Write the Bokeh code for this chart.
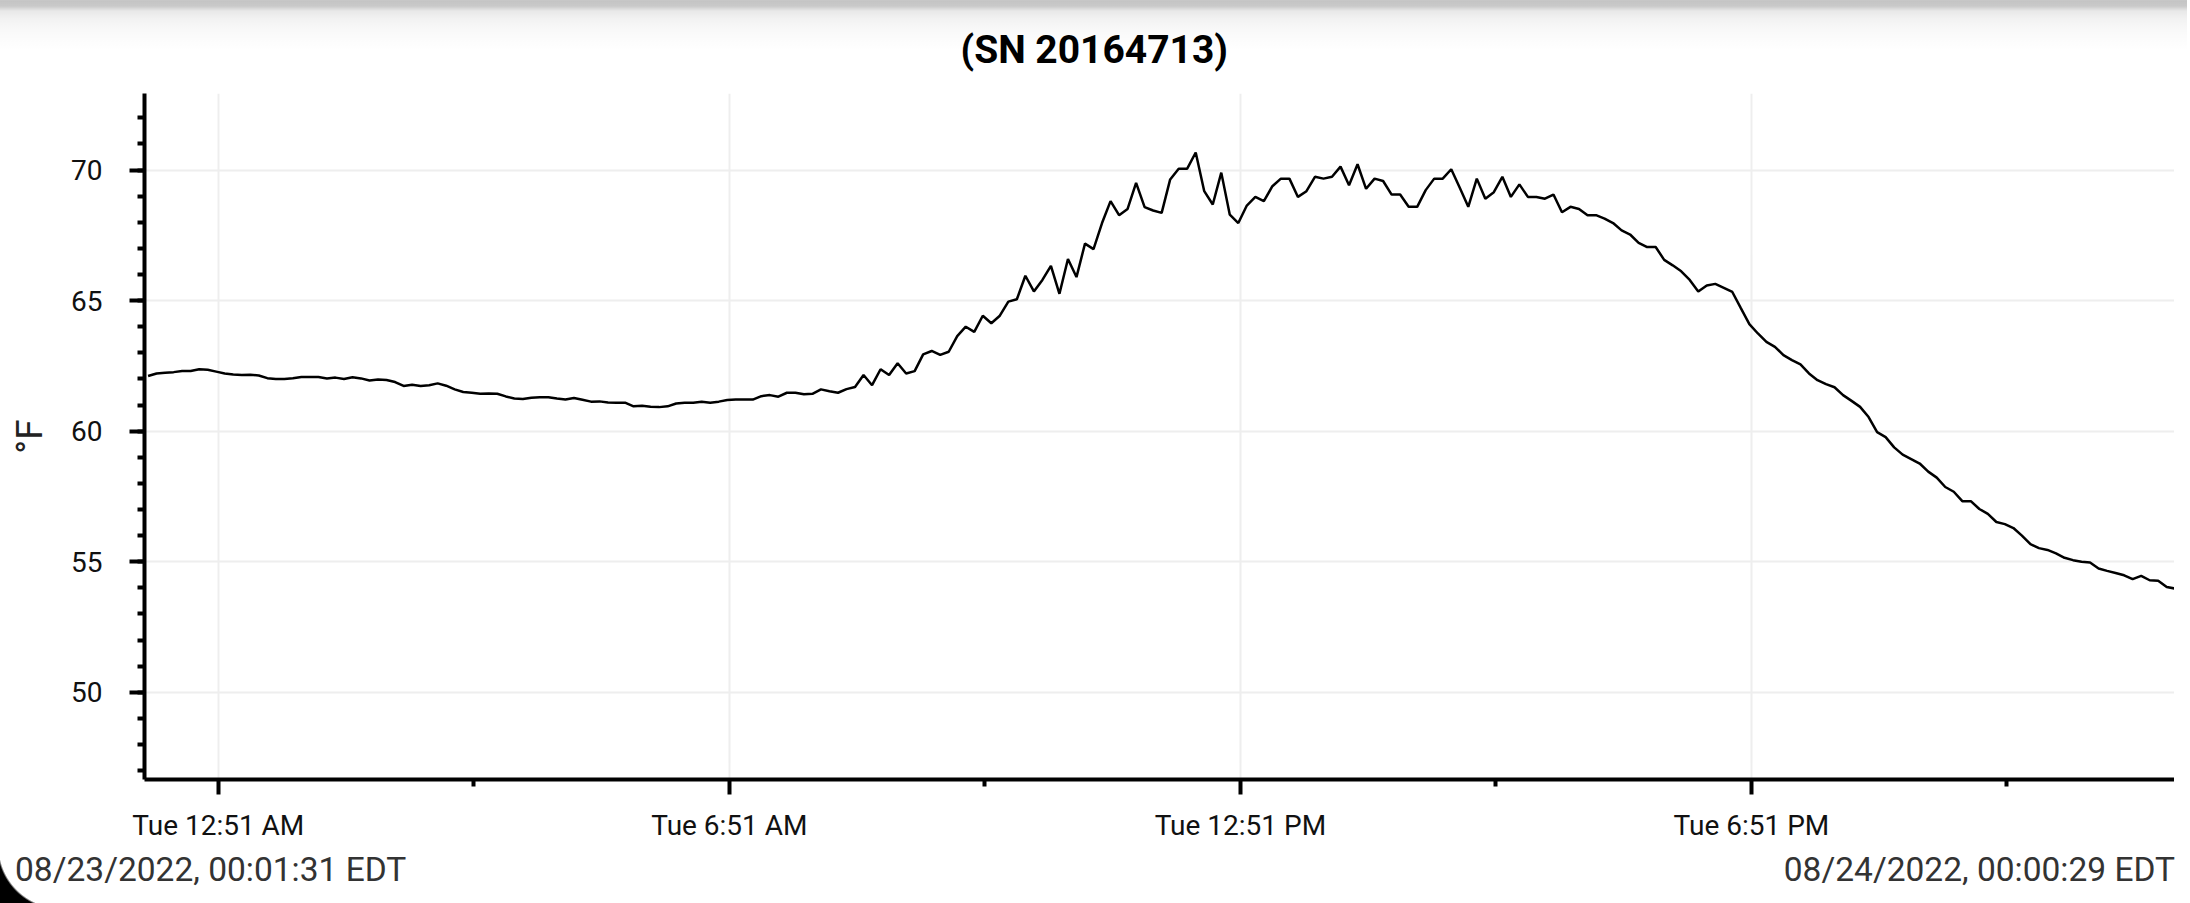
from bokeh.plotting import figure
from bokeh.models import FixedTicker, SingleIntervalTicker, Range1d, Div, ColumnDataSource, Title
from bokeh.layouts import column
from bokeh.embed import file_html
from bokeh.resources import INLINE

# ---------------- data ----------------
title_text = "(SN 20164713)"
y_label = "°F"
start_label = "08/23/2022, 00:01:31 EDT"
end_label = "08/24/2022, 00:00:29 EDT"

start_minute = 1 + 31 / 60.0      # first reading, minutes after midnight 08/23/2022
step_minutes = 6                  # logging interval

temps = [
    62.11, 62.21, 62.24, 62.26, 62.30, 62.30, 62.37, 62.35, 62.28, 62.21,
    62.17, 62.15, 62.16, 62.13, 62.03, 62.00, 62.00, 62.03, 62.07, 62.07,
    62.07, 62.02, 62.05, 62.00, 62.06, 62.02, 61.94, 61.98, 61.96, 61.88,
    61.73, 61.78, 61.73, 61.76, 61.83, 61.74, 61.60, 61.50, 61.47, 61.43,
    61.44, 61.43, 61.33, 61.25, 61.23, 61.28, 61.30, 61.30, 61.25, 61.21,
    61.27, 61.20, 61.13, 61.14, 61.10, 61.09, 61.09, 60.95, 60.97, 60.93,
    60.92, 60.95, 61.06, 61.09, 61.09, 61.13, 61.09, 61.13, 61.19, 61.21,
    61.21, 61.21, 61.34, 61.38, 61.32, 61.47, 61.47, 61.41, 61.43, 61.60,
    61.53, 61.47, 61.61, 61.69, 62.15, 61.76, 62.37, 62.15, 62.60, 62.21,
    62.30, 62.94, 63.07, 62.92, 63.04, 63.64, 64.00, 63.80, 64.42, 64.13,
    64.42, 64.96, 65.05, 65.95, 65.35, 65.79, 66.33, 65.26, 66.59, 65.90,
    67.18, 66.97, 67.97, 68.81, 68.27, 68.51, 69.51, 68.58, 68.45, 68.36,
    69.64, 70.05, 70.05, 70.67, 69.19, 68.68, 69.90, 68.29, 67.97, 68.64,
    68.97, 68.81, 69.38, 69.67, 69.67, 68.97, 69.19, 69.74, 69.67, 69.74,
    70.13, 69.42, 70.22, 69.28, 69.67, 69.58, 69.06, 69.06, 68.59, 68.59,
    69.23, 69.67, 69.67, 70.03, 69.32, 68.59, 69.67, 68.90, 69.15, 69.74,
    68.97, 69.45, 68.97, 68.97, 68.90, 69.06, 68.38, 68.59, 68.51, 68.27,
    68.27, 68.14, 67.97, 67.69, 67.53, 67.21, 67.05, 67.05, 66.56, 66.35,
    66.12, 65.79, 65.35, 65.58, 65.64, 65.49, 65.33, 64.71, 64.10, 63.74,
    63.42, 63.23, 62.91, 62.72, 62.56, 62.21, 61.95, 61.80, 61.68, 61.38,
    61.16, 60.93, 60.54, 59.96, 59.77, 59.38, 59.10, 58.93, 58.76, 58.45,
    58.22, 57.86, 57.68, 57.32, 57.32, 57.02, 56.83, 56.52, 56.44, 56.29,
    56.00, 55.67, 55.52, 55.45, 55.32, 55.15, 55.06, 55.00, 54.97, 54.74,
    54.65, 54.57, 54.48, 54.33, 54.46, 54.29, 54.27, 54.03, 53.97, 53.97,
    53.90,
]
minutes = [start_minute + i * step_minutes for i in range(len(temps))]

x_major = [51, 411, 771, 1131]            # minutes after midnight
x_major_labels = ["Tue 12:51 AM", "Tue 6:51 AM", "Tue 12:51 PM", "Tue 6:51 PM"]
x_minor = [231, 591, 951, 1311]
x_view = (-1.0, 1429.0)
y_view = (46.66, 72.93)

FONT = "Roboto"
W = 2174

# ---------------- top shadow strip (page decoration) ----------------
shadow = ('<div style="position:absolute;left:-8px;top:-8px;width:2190px;height:54px;'
          'z-index:10;pointer-events:none;'
          'background:linear-gradient(to bottom, rgba(0,0,0,0.15) 0px, rgba(0,0,0,0.23) 4px, '
          'rgba(0,0,0,0.21) 9px, rgba(0,0,0,0.09) 14px, rgba(0,0,0,0.05) 22px, '
          'rgba(0,0,0,0.02) 36px, rgba(0,0,0,0) 54px);"></div>')
shade = Div(text=shadow, width=W, height=9,
            styles={"position": "relative", "z-index": "10", "overflow": "visible"})

# ---------------- main chart ----------------
src = ColumnDataSource(dict(minute=minutes, temp=temps))
p = figure(width=W, height=828, x_range=Range1d(*x_view), y_range=Range1d(*y_view),
           toolbar_location=None, output_backend="svg",
           min_border_left=144, min_border_right=0, min_border_top=40, min_border_bottom=68)
p.outline_line_color = None
p.background_fill_color = "white"
p.border_fill_color = "white"

p.title.text = title_text
p.title.text_font = FONT
p.title.text_font_size = "39px"
p.title.text_font_style = "bold"
p.title.text_color = "black"
p.title.align = "left"
p.title.offset = 816
p.title.standoff = 10
# thin empty band between the title and the plot frame
p.add_layout(Title(text=" ", text_font_size="12px", standoff=0), "above")

p.line("minute", "temp", source=src, line_color="black", line_width=2.5)

p.xaxis.ticker = FixedTicker(ticks=x_major, minor_ticks=x_minor)
p.xaxis.major_label_overrides = dict(zip(x_major, x_major_labels))
p.yaxis.ticker = SingleIntervalTicker(interval=5, num_minor_ticks=5)
p.yaxis.axis_label = y_label

for ax in (p.xaxis, p.yaxis):
    ax.axis_line_color = "black"
    ax.axis_line_width = 4
    ax.major_tick_line_color = "black"
    ax.minor_tick_line_color = "black"
    ax.major_tick_line_width = 4
    ax.minor_tick_line_width = 4
    ax.major_tick_in = 0
    ax.major_tick_out = 15
    ax.minor_tick_in = 0
    ax.minor_tick_out = 7
    ax.major_label_text_font = FONT
    ax.major_label_text_font_size = "28px"
    ax.major_label_text_color = "#111111"
    ax.axis_label_text_font = FONT
    ax.axis_label_text_font_style = "normal"
    ax.axis_label_text_font_size = "37px"
    ax.axis_label_text_color = "#222222"

p.xaxis.major_label_standoff = 14
p.yaxis.major_label_standoff = 27
p.yaxis.axis_label_standoff = 17

p.xgrid.grid_line_color = "#eeeeee"
p.ygrid.grid_line_color = "#eeeeee"
p.xgrid.grid_line_width = 2
p.ygrid.grid_line_width = 2

# ---------------- footer with range stamps ----------------
corner = ('<div style="position:absolute;left:-8px;top:-6px;width:64px;height:64px;'
          'background:radial-gradient(circle at 100% 0%, rgba(0,0,0,0) 62px, #000 64px);"></div>')
footer = Div(
    text=('<div style="position:relative;display:flex;justify-content:space-between;'
          f'width:{W}px;box-sizing:border-box;padding:1px 4px 0 10px;font-family:Roboto;'
          'font-size:33.5px;line-height:1.0;color:#333333;">'
          f'{corner}<span>{start_label}</span><span>{end_label}</span></div>'),
    width=W, height=48)

layout = column(shade, p, footer, spacing=0)
open("out.html", "w").write(file_html(layout, INLINE))
